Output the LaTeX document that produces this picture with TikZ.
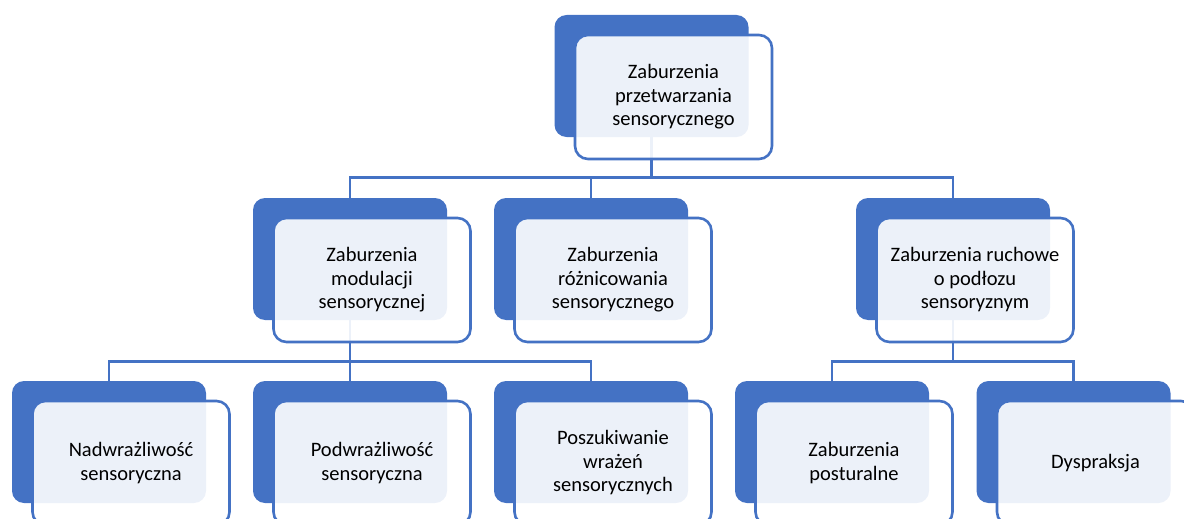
\documentclass[tikz,border=0pt]{standalone}
\usepackage{fontspec}
\setmainfont{Carlito}
\usetikzlibrary{positioning}

\definecolor{smblue}{RGB}{68,114,196}

\tikzset{
  backbox/.style={fill=smblue, draw=none, rounded corners=12pt, minimum width=194pt, minimum height=122pt, inner sep=0pt},
  frontbox/.style={fill=white, fill opacity=0.9, text opacity=1, draw=smblue, line width=2.6pt, rounded corners=13pt,
    minimum width=197pt, minimum height=124pt, inner sep=0pt, align=center, text=black,
    font=\fontsize{20.5}{23.5}\selectfont},
  conn/.style={draw=smblue, line width=2.4pt}
}

\begin{document}
\begin{tikzpicture}[x=1pt, y=-1pt]
		\clip (0,0) rectangle (1184,519);

\coordinate (cT) at (651.5,76);
\coordinate (cA) at (350,259);
\coordinate (cB) at (591,259);
\coordinate (cC) at (953,259);
\coordinate (cL1) at (109,442);
\coordinate (cL2) at (350,442);
\coordinate (cL3) at (591,442);
\coordinate (cL4) at (832,442);
\coordinate (cL5) at (1073.5,442);

\coordinate (J1) at (651.5,177.5);
\coordinate (J2) at (350,361.5);
\coordinate (J3) at (953,361.5);

% back boxes
\node[backbox] (T) at (cT) {};
\node[backbox] (A) at (cA) {};
\node[backbox] (B) at (cB) {};
\node[backbox] (C) at (cC) {};
\node[backbox] (L1) at (cL1) {};
\node[backbox] (L2) at (cL2) {};
\node[backbox] (L3) at (cL3) {};
\node[backbox] (L4) at (cL4) {};
\node[backbox] (L5) at (cL5) {};

% connectors
\draw[conn] (T.south) -- (J1) -| (A.north);
\draw[conn] (J1) -| (B.north);
\draw[conn] (J1) -| (C.north);
\draw[conn] (A.south) -- (J2) -| (L1.north);
\draw[conn] (J2) -| (L3.north);
\draw[conn] (J2) -- (L2.north);
\draw[conn] (C.south) -- (J3) -| (L4.north);
\draw[conn] (J3) -| (L5.north);

% front boxes
\node[frontbox] (FT) at ([shift={(22,21)}]T.center) {Zaburzenia\\przetwarzania\\sensorycznego};
\node[frontbox] (FA) at ([shift={(22,21)}]A.center) {Zaburzenia\\modulacji\\sensorycznej};
\node[frontbox] (FB) at ([shift={(22,21)}]B.center) {Zaburzenia\\różnicowania\\sensorycznego};
\node[frontbox] (FC) at ([shift={(22,21)}]C.center) {Zaburzenia ruchowe\\o podłozu\\sensoryznym};
\node[frontbox] (FL1) at ([shift={(22,21)}]L1.center) {Nadwrażliwość\\sensoryczna};
\node[frontbox] (FL2) at ([shift={(22,21)}]L2.center) {Podwrażliwość\\sensoryczna};
\node[frontbox] (FL3) at ([shift={(22,21)}]L3.center) {Poszukiwanie\\wrażeń\\sensorycznych};
\node[frontbox] (FL4) at ([shift={(22,21)}]L4.center) {Zaburzenia\\posturalne};
\node[frontbox] (FL5) at ([shift={(22,21)}]L5.center) {Dyspraksja};
	\end{tikzpicture}
\end{document}
